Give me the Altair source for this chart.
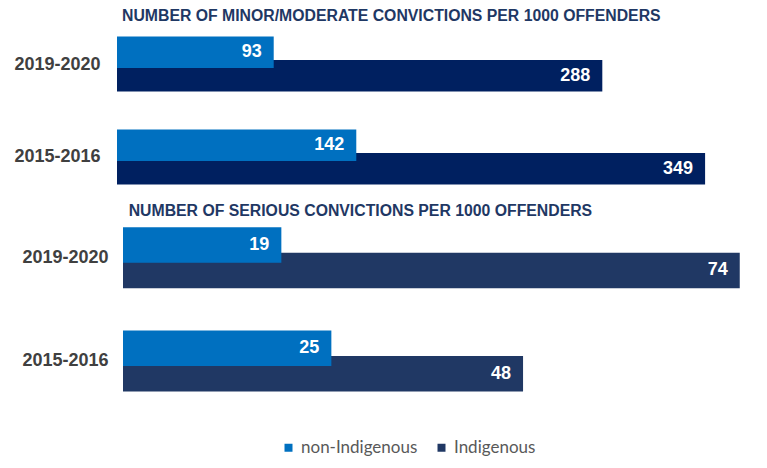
import altair as alt
import pandas as pd

years = ["2019-2020", "2015-2016"]
groups = ["non-Indigenous", "Indigenous"]
minor_non = [93, 142]
minor_ind = [288, 349]
serious_non = [19, 25]
serious_ind = [74, 48]

title_top = "NUMBER OF MINOR/MODERATE CONVICTIONS PER 1000 OFFENDERS"
title_bottom = "NUMBER OF SERIOUS CONVICTIONS PER 1000 OFFENDERS"

LIGHT = "#0070C0"
DARK_TOP = "#002060"
DARK_BOTTOM = "#203864"


def make_df(non, ind):
    rows = []
    for y, v in zip(years, non):
        rows.append({"year": y, "group": groups[0], "value": v})
    for y, v in zip(years, ind):
        rows.append({"year": y, "group": groups[1], "value": v})
    return pd.DataFrame(rows)


def panel(df, title, xdomain, ypad, height, bar_h, off, dark, label_pad, title_dx, title_off, legend):
    color_scale = alt.Scale(domain=groups, range=[LIGHT, dark])
    if legend:
        leg = alt.Legend(
            title=None, orient="none", direction="horizontal",
            legendX=163, legendY=216,
            symbolType="square", symbolSize=64, symbolStrokeWidth=0,
            labelFont="Lato", labelFontSize=17, labelColor="#595959",
            labelOffset=4, columnPadding=15,
        )
    else:
        leg = None
    base = alt.Chart(df).encode(
        y=alt.Y(
            "year:N", sort=years,
            scale=alt.Scale(type="point", padding=ypad),
            axis=alt.Axis(
                title=None, domain=False, ticks=False, grid=False,
                labelFont="Liberation Sans", labelFontSize=18,
                labelFontWeight="bold", labelColor="#404040",
                labelPadding=label_pad,
            ),
        ),
        x=alt.X(
            "value:Q",
            scale=alt.Scale(domain=xdomain, nice=False, zero=False),
            axis=None,
        ),
    )
    color_enc = alt.Color("group:N", scale=color_scale, legend=leg)
    dark_bar = base.transform_filter(alt.datum.group == groups[1]).mark_bar(
        height=bar_h, yOffset=off
    ).encode(color=color_enc)
    light_bar = base.transform_filter(alt.datum.group == groups[0]).mark_bar(
        height=bar_h, yOffset=-off
    ).encode(color=color_enc)
    txt_style = dict(
        align="right", baseline="middle", dx=-12, color="white",
        font="Liberation Sans", fontSize=18, fontWeight="bold",
    )
    dark_txt = base.transform_filter(alt.datum.group == groups[1]).mark_text(
        yOffset=off, **txt_style
    ).encode(text="value:Q")
    light_txt = base.transform_filter(alt.datum.group == groups[0]).mark_text(
        yOffset=-off, **txt_style
    ).encode(text="value:Q")
    return alt.layer(dark_bar, light_bar, dark_txt, light_txt).properties(
        width=625, height=height,
        title=alt.TitleParams(
            text=title, anchor="start", frame="group", dx=title_dx,
            offset=title_off, font="Liberation Sans", fontSize=15.8,
            fontWeight="bold", color="#1F3864",
        ),
    )


top = panel(make_df(minor_non, minor_ind), title_top, [0, 370.9],
            0.398, 167, 31.5, 11.75, DARK_TOP, 17, 5, 2, False)
bottom = panel(make_df(serious_non, serious_ind), title_bottom, [-0.72, 74.27],
               0.336, 172.7, 35.5, 12.75, DARK_BOTTOM, 9, 11.7, 3, True)

chart = alt.vconcat(top, bottom, spacing=29, bounds="flush").resolve_scale(
    color="independent"
).properties(
    padding={"left": 5, "top": 0, "right": 5, "bottom": 5},
    background="white",
).configure_view(strokeWidth=0, stroke=None)

chart.save("out.html", embed_options={"renderer": "svg", "actions": False})
